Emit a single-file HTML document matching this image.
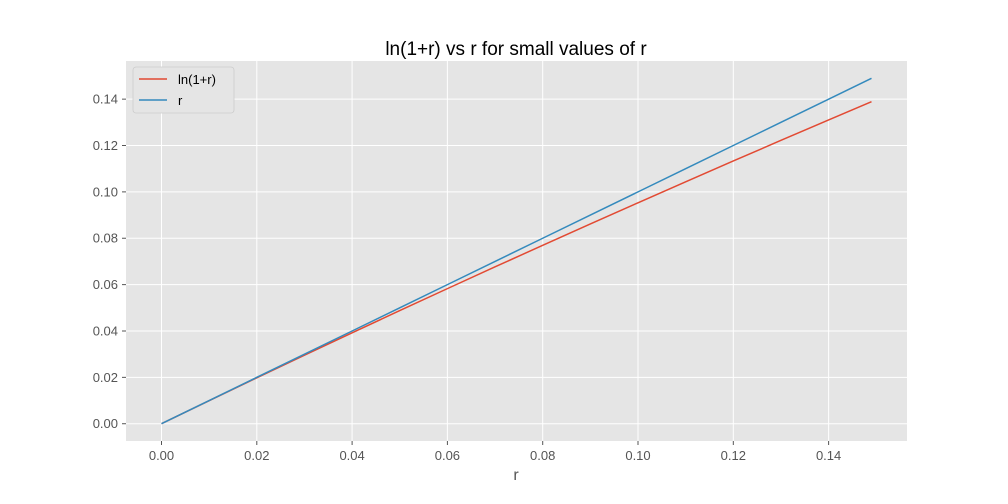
<!DOCTYPE html>
<html><head><meta charset="utf-8"><style>body{margin:0;background:#fff}svg{display:block;font-family:"Liberation Sans","DejaVu Sans",sans-serif}</style></head>
<body>
<svg id="chart" width="1008" height="504">
<rect x="126" y="61" width="781" height="380" fill="#E5E5E5"/>
<g id="grid"></g><g id="ticks"></g><g id="series"></g>
<text x="516" y="55" font-size="19" text-anchor="middle" fill="#000">ln(1+r) vs r for small values of r</text>
<text x="516" y="480" font-size="16" text-anchor="middle" fill="#555">r</text>
<g>
<rect x="133" y="67" width="101" height="46" rx="3" fill="#E5E5E5" stroke="#ccc" stroke-width="0.8"/>
<line x1="139" y1="79" x2="167" y2="79" stroke="#E24A33" stroke-width="1.5"/>
<text x="178" y="84" font-size="13" fill="#000">ln(1+r)</text>
<line x1="139" y1="100" x2="167" y2="100" stroke="#348ABD" stroke-width="1.5"/>
<text x="178" y="105" font-size="13" fill="#000">r</text>
</g>
</svg>
<script>
const rValues=[0,0.01,0.02,0.03,0.04,0.05,0.06,0.07,0.08,0.09,0.10,0.11,0.12,0.13,0.14,0.149];
const lnValues=[0,0.00995,0.0198,0.02956,0.03922,0.04879,0.05827,0.06766,0.07696,0.08618,0.09531,0.10436,0.11333,0.12222,0.13103,0.13889];
const xTicks=[0,0.02,0.04,0.06,0.08,0.10,0.12,0.14];
const yTicks=[0,0.02,0.04,0.06,0.08,0.10,0.12,0.14];
const xMin=-0.00745,xMax=0.15645,yMin=-0.00745,yMax=0.15645;
const L=126,R=907,T=61,B=441;
const X=v=>L+(v-xMin)/(xMax-xMin)*(R-L);
const Y=v=>B-(v-yMin)/(yMax-yMin)*(B-T);
const NS="http://www.w3.org/2000/svg";
function mk(tag,attrs,parent){const e=document.createElementNS(NS,tag);for(const k in attrs)e.setAttribute(k,attrs[k]);document.getElementById(parent).appendChild(e);return e;}
xTicks.forEach(t=>{
 const g=mk('line',{x1:X(t),x2:X(t),y1:T,y2:B,stroke:'#fff','stroke-width':1},'grid');
 
 
 const k=mk('line',{x1:X(t),x2:X(t),y1:B,y2:B+4,stroke:'#555'},'ticks');
 
 
 const s=mk('text',{x:X(t),y:B+19,'font-size':13,fill:'#555','text-anchor':'middle'},'ticks');
 s.textContent=t.toFixed(2);
 
 
});
yTicks.forEach(t=>{
 const g=mk('line',{x1:L,x2:R,y1:Y(t),y2:Y(t),stroke:'#fff','stroke-width':1},'grid');
 
 
 const k=mk('line',{x1:L-4,x2:L,y1:Y(t),y2:Y(t),stroke:'#555'},'ticks');
 
 
 const s=mk('text',{x:L-8,y:Y(t)+4.5,'font-size':13,fill:'#555','text-anchor':'end'},'ticks');
 s.textContent=t.toFixed(2);
 
 
});
const p1=mk('polyline',{points:rValues.map((r,i)=>X(r)+','+Y(lnValues[i])).join(' '),fill:'none',stroke:'#E24A33','stroke-width':1.5},'series');


const p2=mk('polyline',{points:rValues.map(r=>X(r)+','+Y(r)).join(' '),fill:'none',stroke:'#348ABD','stroke-width':1.5},'series');


</script>
</body></html>
